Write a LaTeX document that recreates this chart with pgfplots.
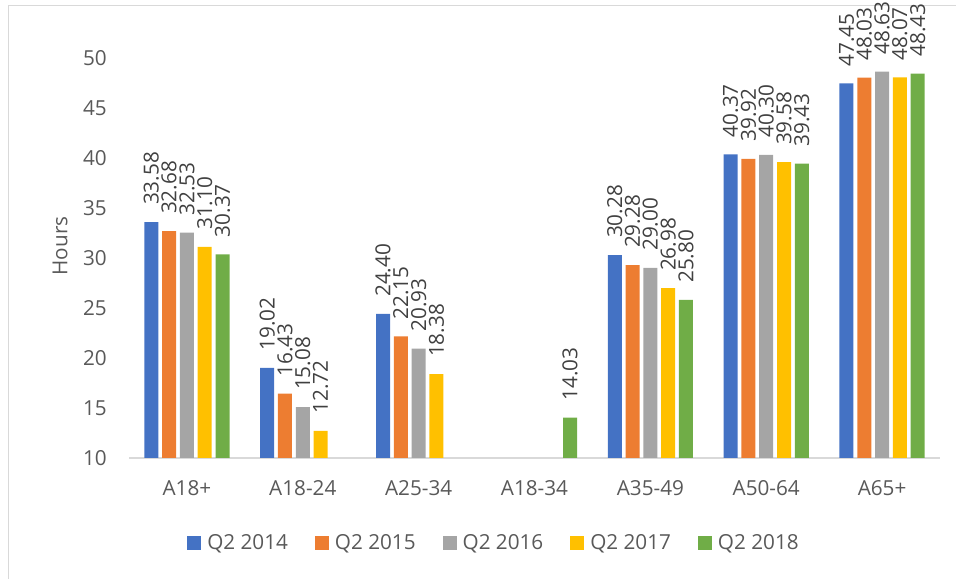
\documentclass[border=0pt]{standalone}
\usepackage{fontspec}
\setmainfont{Open Sans}
\usepackage{pgfplots}
\pgfplotsset{compat=1.18}
\definecolor{cblue}{HTML}{4472C4}
\definecolor{corange}{HTML}{ED7D31}
\definecolor{cgray}{HTML}{A5A5A5}
\definecolor{cyellow}{HTML}{FFC000}
\definecolor{cgreen}{HTML}{70AD47}
\definecolor{tickgray}{HTML}{595959}
\definecolor{labelgray}{HTML}{404040}
\definecolor{axisgray}{HTML}{D9D9D9}
\definecolor{framegray}{HTML}{D9D9D9}
\begin{document}
\begin{tikzpicture}[font=\fontsize{20.7bp}{25bp}\selectfont]
\path[use as bounding box] (0,0) rectangle (956bp,579bp);
\draw[framegray, line width=1bp] (8bp,0) -- (8bp,573bp) -- (956bp,573bp);
\begin{axis}[
  at={(129bp,121bp)}, anchor=south west,
  scale only axis, width=811bp, height=400bp,
  xmin=-0.5, xmax=6.5, ymin=10, ymax=50,
  ytick={10,15,...,50},
  xtick={0,...,6},
  xticklabels={A18+,A18-24,A25-34,A18-34,A35-49,A50-64,A65+},
  major tick length=0pt,
  axis lines*=left,
  y axis line style={draw=none},
  x axis line style={draw=axisgray, line width=1.5bp},
  ybar=3.8bp, bar width=14bp,
  /pgf/number format/assume math mode=true,
  tick label style={text=tickgray, inner sep=0pt},
  yticklabel style={xshift=-22bp},
  xticklabel style={yshift=-22bp},
  ylabel={Hours},
  every axis y label/.style={at={(rel axis cs:-0.0851,0.53)}, rotate=90, anchor=center, text=tickgray},
  nodes near coords={\pgfmathprintnumber[fixed,fixed zerofill,precision=2]{\pgfplotspointmeta}},
  every node near coord/.append style={text=labelgray, inner sep=0pt, yshift=17bp, rotate=90, anchor=west},
  legend columns=5,
  legend style={at={(rel axis cs:0.4488,-0.2125)}, anchor=center, draw=none, fill=none,
    text=tickgray, nodes={inner sep=0pt},
    /tikz/every odd column/.append style={column sep=6bp},
    /tikz/every even column/.append style={column sep=27bp}},
  legend image code/.code={\fill[#1] (0bp,-7bp) rectangle (14bp,7bp);},
]
\addplot[fill=cblue, draw=none] coordinates {(0,33.58) (1,19.02) (2,24.40) (4,30.28) (5,40.37) (6,47.45)};
\addplot[fill=corange, draw=none] coordinates {(0,32.68) (1,16.43) (2,22.15) (4,29.28) (5,39.92) (6,48.03)};
\addplot[fill=cgray, draw=none] coordinates {(0,32.53) (1,15.08) (2,20.93) (4,29.00) (5,40.30) (6,48.63)};
\addplot[fill=cyellow, draw=none] coordinates {(0,31.10) (1,12.72) (2,18.38) (4,26.98) (5,39.58) (6,48.07)};
\addplot[fill=cgreen, draw=none] coordinates {(0,30.37) (3,14.03) (4,25.80) (5,39.43) (6,48.43)};
\legend{Q2 2014,Q2 2015,Q2 2016,Q2 2017,Q2 2018}
\end{axis}
\end{tikzpicture}
\end{document}
